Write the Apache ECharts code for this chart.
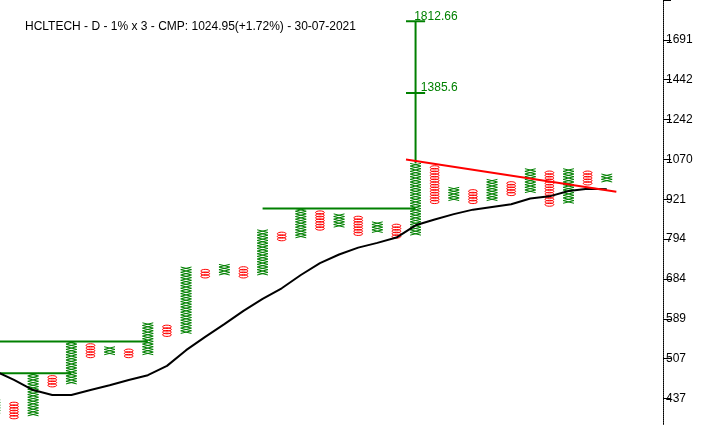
<!DOCTYPE html>
<html>
<head>
<meta charset="utf-8">
<script src="https://cdn.jsdelivr.net/npm/echarts@6/dist/echarts.min.js"></script>
<style>
html,body{margin:0;padding:0;background:#fff;}
#chart{width:707px;height:425px;}
</style>
</head>
<body>
<div id="chart"></div>
<script>
// Point & Figure chart, 1% box, 3 box reversal. Values are in box units (box 0 = 437).
const titleText = 'HCLTECH - D - 1% x 3 - CMP: 1024.95(+1.72%) - 30-07-2021';
const tickLabels = ['437','507','589','684','794','921','1070','1242','1442','1691'];
const boxesPerTick = 15;

// Columns: first column index is -1 (partly off chart)
const firstColumn = -1;
const columnTypes = ['X','O','X','O','X','O','X','O','X','O','X','O','X','O','X','O','X','O','X','O','X','O','X','O','X','O','X','O','X','O','X','O','X'];
const columnLows  = [-5,-7,-6, 5, 6,16,17,16,17,24,25,46,47,46,47,60,61,64,65,62,63,61,62,74,75,74,75,77,78,73,74,81,82];
const columnHighs = [-1,-2, 9, 8,21,20,19,18,28,27,49,48,50,49,63,62,71,70,69,68,66,65,88,87,79,78,82,81,86,85,86,85,84];

// Black moving-average line (column index, box level)
const avgColumns = [-1,0,1,2,3,4,5,6,7,8,9,10,11,12,13,14,15,16,17,18,19,20,21,22,23,24,25,26,27,28,29,30,31];
const avgValues  = [10.4,7.0,3.2,1.3,1.3,3.2,5.0,7.0,8.8,12.3,18.2,23.2,28,33,37.5,41.5,46.5,51,54.2,56.8,58.6,60.6,65.2,67.4,69.4,71.1,72.1,73.1,75.3,76.1,78.1,79.0,78.8];

// Green resistance lines
const resStart = [-1, -1, 13];
const resEnd   = [3, 7, 21];
const resLevel = [9.5, 21.5, 71.5];

// Red trend line
const trendCols   = [20.5, 31.5];
const trendLevels = [90.0, 77.8];

// Vertical count targets
const targetColumn = 21;
const targetBase = 88.5;
const targetLevels = [142, 115];
const targetLabels = ['1812.66', '1385.6'];

const GREEN = '#008000';
const RED = '#ff0000';

const colData = columnTypes.map((t, j) => [firstColumn + j, columnLows[j], columnHighs[j], t === 'X' ? 1 : 0]);

const chart = echarts.init(document.getElementById('chart'), null, {renderer: 'canvas'});

const series = [];

series.push({
  type: 'custom',
  data: colData,
  encode: {x: 0, y: [1, 2]},
  clip: true,
  silent: true,
  renderItem: function (params, api) {
    const i = api.value(0), lo = api.value(1), hi = api.value(2), t = api.value(3);
    const h = api.size([0, 1])[1];
    const cx = api.coord([i, lo])[0];
    const yt = api.coord([i, hi + 0.5])[1];
    const n = hi - lo + 1;
    if (t === 1) {
      const p1 = [], p2 = [];
      for (let j = 0; j <= n; j++) {
        const y = yt + j * h;
        p1.push([j % 2 === 0 ? cx - 5.4 : cx + 5.4, y]);
        p2.push([j % 2 === 0 ? cx + 5.4 : cx - 5.4, y]);
      }
      return {
        type: 'group',
        children: [
          {type: 'polyline', shape: {points: p1}, style: {stroke: GREEN, lineWidth: 1, fill: null}},
          {type: 'polyline', shape: {points: p2}, style: {stroke: GREEN, lineWidth: 1, fill: null}}
        ]
      };
    } else {
      const ch = [];
      for (let k = lo; k <= hi; k++) {
        const c = api.coord([i, k]);
        ch.push({type: 'ellipse', shape: {cx: cx, cy: c[1], rx: 4.4, ry: h * 0.62}, style: {stroke: RED, lineWidth: 1, fill: null}});
      }
      return {type: 'group', children: ch};
    }
  }
});

// resistance lines
resStart.forEach((s, j) => {
  series.push({
    type: 'line', silent: true, symbol: 'none', animation: false,
    data: [[s, resLevel[j]], [resEnd[j], resLevel[j]]],
    lineStyle: {color: GREEN, width: 2}
  });
});

// moving average
series.push({
  type: 'line', silent: true, symbol: 'none', animation: false,
  data: avgColumns.map((c, j) => [c, avgValues[j]]),
  lineStyle: {color: '#000', width: 2}
});

// trend line
series.push({
  type: 'line', silent: true, symbol: 'none', animation: false,
  data: trendCols.map((c, j) => [c, trendLevels[j]]),
  lineStyle: {color: RED, width: 2}
});

// targets
series.push({
  type: 'custom', silent: true, clip: false,
  data: [[targetColumn, targetBase, Math.max.apply(null, targetLevels)]],
  encode: {x: 0, y: [1, 2]},
  renderItem: function (params, api) {
    const base = api.coord([targetColumn, targetBase]);
    const top = api.coord([targetColumn, Math.max.apply(null, targetLevels)]);
    const w = api.size([1, 0])[0];
    const ch = [{type: 'line', shape: {x1: base[0], y1: base[1], x2: top[0], y2: top[1]}, style: {stroke: GREEN, lineWidth: 2}}];
    targetLevels.forEach((lv, j) => {
      const p = api.coord([targetColumn, lv]);
      ch.push({type: 'line', shape: {x1: p[0] - w * 0.5, y1: p[1], x2: p[0] + w * 0.5, y2: p[1]}, style: {stroke: GREEN, lineWidth: 2}});
      ch.push({type: 'text', x: p[0] + 42, y: p[1] + 1, style: {text: targetLabels[j], fill: GREEN, font: '12px "Liberation Sans", Arial, sans-serif', align: 'right', verticalAlign: 'bottom'}});
    });
    return {type: 'group', children: ch};
  }
});

chart.setOption({
  animation: false,
  backgroundColor: '#fff',
  title: {
    text: titleText, left: 20, top: 16,
    textStyle: {fontSize: 12, fontWeight: 'normal', color: '#000', fontFamily: '"Liberation Sans", Arial, sans-serif'}
  },
  grid: {left: 0, right: 44, top: 0, bottom: -13.4, containLabel: false, outerBoundsMode: 'none'},
  xAxis: {
    type: 'value', min: -0.732, max: 33.94, show: false
  },
  yAxis: {
    type: 'value', position: 'right', min: -15, max: 150, interval: boxesPerTick,
    splitLine: {show: false},
    axisLine: {show: true, onZero: false, lineStyle: {color: '#000', type: 'dotted', width: 1}},
    axisTick: {show: true, inside: false, length: 8, lineStyle: {color: '#000'}},
    axisLabel: {
      margin: 3, color: '#000', fontSize: 12, fontFamily: '"Liberation Sans", Arial, sans-serif',
      formatter: function (v) {
        const idx = Math.round(v / boxesPerTick);
        return (idx >= 0 && idx < tickLabels.length) ? tickLabels[idx] : '';
      }
    }
  },
  series: series
});
</script>
</body>
</html>
